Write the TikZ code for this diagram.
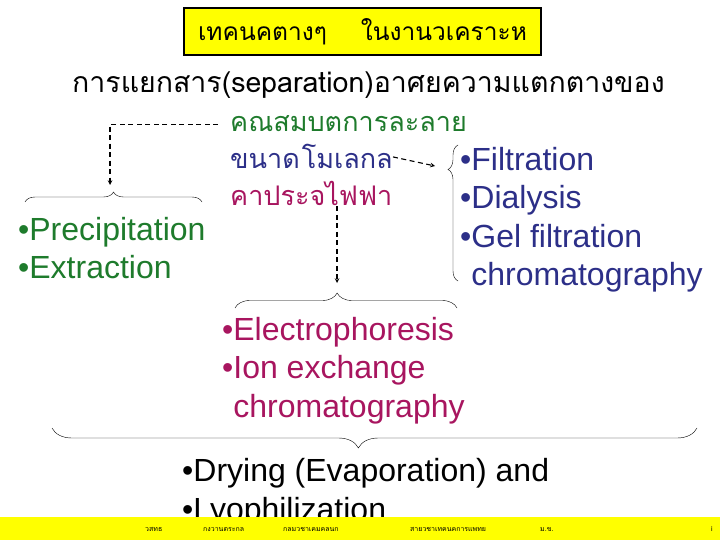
\documentclass[tikz,border=0pt]{standalone}
\usepackage{fontspec}
\setmainfont{Liberation Sans}
\newfontfamily\thaifont[Script=Thai]{Loma}
\usetikzlibrary{decorations.pathreplacing}

\tikzset{
  bullets/.style={anchor=base west, align=left, inner sep=0pt, font=\fontsize{32}{38.5}\selectfont},
  thaiword/.style={anchor=base west, inner sep=0pt, font=\thaifont\fontsize{27}{30}\selectfont},
  curly/.style={decorate, thin, decoration={brace, amplitude=#1}},
  dashlink/.style={->, >=stealth, line width=1.1pt, dash pattern=on 5pt off 3.5pt},
  footword/.style={anchor=base west, inner sep=0pt, font=\thaifont\fontsize{7}{8}\selectfont},
}

\begin{document}
\begin{tikzpicture}[x=1pt, y=-1pt]
    \definecolor{solGreen}{HTML}{1E7B2C}
    \definecolor{sizeBlue}{HTML}{2C2F88}
    \definecolor{chargeMagenta}{HTML}{A8155F}
    \definecolor{slideYellow}{HTML}{FFFF00}

    % Page
    \useasboundingbox (0,0) rectangle (720,540);
    \fill[white] (0,0) rectangle (720,540);

    % Title box
    \node[draw, line width=1.2pt, fill=slideYellow, minimum width=357pt, minimum height=47pt,
          inner sep=0pt, font=\thaifont\fontsize{24.5}{28}\selectfont] (title) at (362.5,31.5)
          {เทคนคตางๆ\hspace{34pt}ในงานวเคราะห};

    % Heading line
    \node[thaiword, font=\thaifont\fontsize{28.5}{30}\selectfont] (heading) at (72,93)
          {การแยกสาร(separation)อาศยความแตกตางของ};

    % Properties
    \node[thaiword, text=solGreen] (solText) at (230,132) {คณสมบตการละลาย};
    \node[thaiword, text=sizeBlue] (sizeText) at (230,169) {ขนาด\hspace{2pt}โมเลกล};
    \node[thaiword, text=chargeMagenta] (chargeText) at (230,206) {คาประจไฟฟา};

    % Brace tips
    \coordinate (precipTip) at (110,185);
    \coordinate (filtTip) at (435,166);
    \coordinate (elecTip) at (337,283);

    % Method lists (base is the last line)
    \node[bullets, text=solGreen] (precipList) at (18,278.5) {•Precipitation\\•Extraction};
    \node[bullets, text=sizeBlue] (filtList) at (460,285.5)
        {•Filtration\\•Dialysis\\•Gel filtration\\\phantom{•}chromatography};
    \node[bullets, text=chargeMagenta] (elecList) at (222,417)
        {•Electrophoresis\\•Ion exchange\\\phantom{•}chromatography};
    \node[bullets] (dryList) at (182,520) {•Drying (Evaporation) and\\•Lyophilization};

    % Braces
    \draw[curly=10pt] (25,202) -- (202,202);
    \draw[curly=10pt, decoration={aspect=0.82}] (458,281) -- (458,145);
    \draw[curly=15pt, decoration={aspect=0.46}] (235,308) -- (457,308);
    \draw[curly=20pt, decoration={aspect=0.525}] (697,428) -- (52,428);

    % Dashed connectors
    \draw[dashlink] ([xshift=-12pt]solText.west) -| (precipTip);
    \draw[dashlink] (sizeText.east) -- (filtTip);
    \draw[dashlink] (chargeText.south -| elecTip) -- (elecTip);

    % Footer bar (over the last line)
    \fill[slideYellow] (0,517) rectangle (720,540);
    \node[footword] (footA) at (145,531) {วสทธ};
    \node[footword] (footB) at (203,531) {กงวานตระกล};
    \node[footword] (footC) at (283,531) {กลมวชาเคมคลนก};
    \node[footword] (footD) at (410,531) {สายวชาเทคนคการแพทย};
    \node[footword] (footE) at (540,531) {ม.ข.};
    \node[footword] (footF) at (711,531) {i};
\end{tikzpicture}
\end{document}
